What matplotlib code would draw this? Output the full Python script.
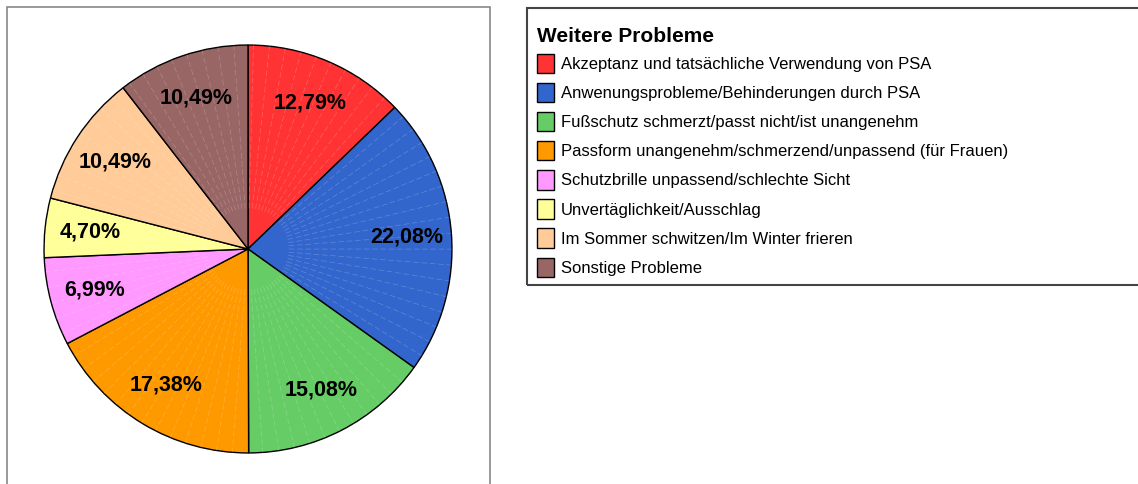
import matplotlib
matplotlib.use("Agg")
import matplotlib.pyplot as plt
import matplotlib.patches as mpatches
import numpy as np

plt.rcParams['font.family'] = ['Liberation Sans', 'DejaVu Sans']

# Daten
kategorien = [
    "Akzeptanz und tatsächliche Verwendung von PSA",
    "Anwenungsprobleme/Behinderungen durch PSA",
    "Fußschutz schmerzt/passt nicht/ist unangenehm",
    "Passform unangenehm/schmerzend/unpassend (für Frauen)",
    "Schutzbrille unpassend/schlechte Sicht",
    "Unvertäglichkeit/Ausschlag",
    "Im Sommer schwitzen/Im Winter frieren",
    "Sonstige Probleme",
]
anteile = [12.79, 22.08, 15.08, 17.38, 6.99, 4.70, 10.49, 10.49]
farben = ["#FF3333", "#3366CC", "#66CC66", "#FF9900",
          "#FF99FF", "#FFFF99", "#FFCC99", "#996666"]
titel = "Weitere Probleme"

W, H = 1138, 484
fig = plt.figure(figsize=(W / 100, H / 100), dpi=100)

# Rahmen um den Diagrammbereich
fig.patches.append(mpatches.Rectangle((7 / W, -0.05), 483 / W, 1.05 - 7 / H,
                                      transform=fig.transFigure, fill=False,
                                      edgecolor="#888888", linewidth=1.2))
# Rahmen um die Legende
fig.patches.append(mpatches.Rectangle((527 / W, 1 - 285 / H), 0.6, (285 - 8) / H,
                                      transform=fig.transFigure, fill=False,
                                      edgecolor="#444444", linewidth=1.5))

cx, cy, r = 248, H - 249, 206
ax = fig.add_axes([(cx - r) / W, (cy - r) / H, 2 * r / W, 2 * r / H])

wedges, texts, autotexts = ax.pie(
    anteile, colors=farben, startangle=90, counterclock=False,
    autopct=lambda p: f"{p:.2f}%".replace(".", ","), pctdistance=0.78,
    wedgeprops=dict(edgecolor="black", linewidth=1.0),
    textprops=dict(fontsize=15.5, fontweight="bold", color="black"),
)

# feine helle Linien (Verlaufseffekt) in den Segmenten
for w in wedges:
    a1, a2 = sorted((w.theta1, w.theta2))
    for a in np.arange(a1 + 4.0, a2 - 1.5, 4.5):
        t = np.deg2rad(a)
        ax.plot([0.2 * np.cos(t), np.cos(t)], [0.2 * np.sin(t), np.sin(t)],
                color="white", lw=0.5, alpha=0.22, ls=(0, (8, 4)), zorder=1.5)
for t in autotexts:
    t.set_zorder(3)

ax.set_xlim(-1.01, 1.01)
ax.set_ylim(-1.01, 1.01)
ax.axis("off")

fig.text(537 / W, 1 - 37 / H, titel, fontsize=15, fontweight="bold",
         va="center", ha="left")
leg = fig.legend(wedges, kategorien, loc="upper left",
                 bbox_to_anchor=(537 / W, 1 - 54 / H), frameon=False,
                 fontsize=12, handlelength=1.02, handleheight=1.4,
                 handletextpad=0.4, labelspacing=0.59, borderpad=0.0,
                 borderaxespad=0.0)

fig.savefig("out.png", dpi=100)
